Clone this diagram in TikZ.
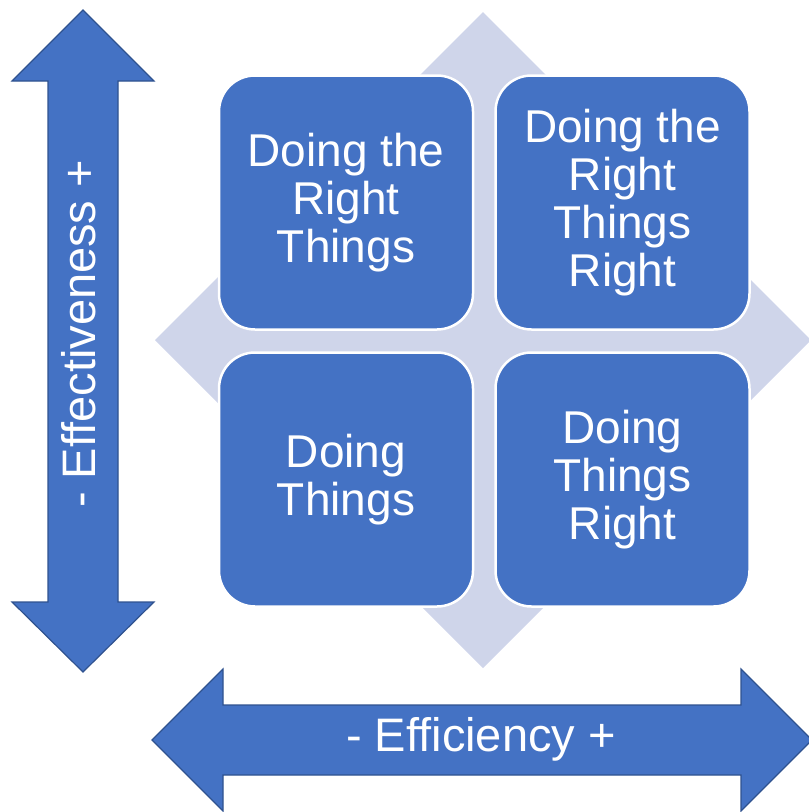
\documentclass[tikz,border=0pt]{standalone}
\usepackage{fontspec}
\setmainfont{Liberation Sans}
\definecolor{quadblue}{HTML}{4472C4}
\definecolor{arrowedge}{HTML}{2F528F}
\definecolor{lavender}{HTML}{CFD5EA}
\tikzset{
    quad/.style={fill=quadblue, draw=white, line width=2.5pt, rounded corners=36pt,
        minimum size=254pt, inner sep=0pt, text=white, align=center,
        font=\fontsize{46}{48}\selectfont},
    bigarrow/.style={fill=quadblue, draw=arrowedge, line width=1.2pt, line join=miter},
    axislabel/.style={text=white, inner sep=0pt, font=\fontsize{47}{50}\selectfont}
}
\begin{document}
\begin{tikzpicture}[x=1pt, y=-1pt]
        \useasboundingbox (0,0) rectangle (809,812);
        \fill[lavender] (483,12) -- (811,340) -- (483,668) -- (155,340) -- cycle;
        \node[quad] (rightthings) at (346,202.5) {Doing the\\Right\\Things};
        \node[quad] (rightthingsright) at (622.5,202.5) {Doing the\\Right\\Things\\Right};
        \node[quad] (things) at (346,479.5) {Doing\\Things};
        \node[quad] (thingsright) at (622.5,479.5) {Doing\\Things\\Right};
        \filldraw[bigarrow] (83,10) -- (154,81) -- (118,81) -- (118,602) -- (154,602)
            -- (83,672) -- (12,602) -- (48,602) -- (48,81) -- (12,81) -- cycle;
        \filldraw[bigarrow] (152,740) -- (223,669) -- (223,705) -- (741,705) -- (741,669)
            -- (812,740) -- (741,811) -- (741,775) -- (223,775) -- (223,811) -- cycle;
        \node[axislabel, rotate=90, anchor=base] (effectiveness) at (95,334) {- Effectiveness +};
        \node[axislabel, anchor=base] (efficiency) at (481,751) {- Efficiency +};
    \end{tikzpicture}
\end{document}
